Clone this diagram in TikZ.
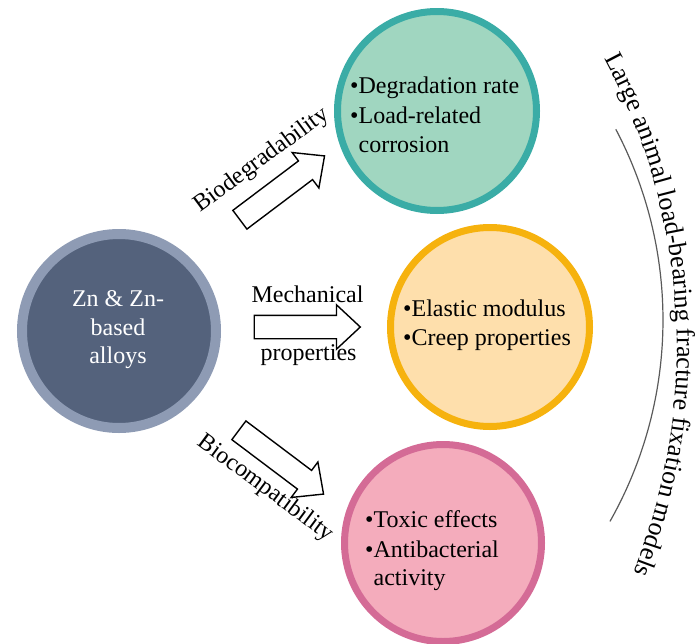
\documentclass[tikz,border=0pt]{standalone}
\usepackage{fontspec}
\setmainfont{Liberation Serif}
\usetikzlibrary{shapes.arrows,decorations.text}
\definecolor{znring}{HTML}{8E9BB4}
\definecolor{znfill}{HTML}{54627C}
\definecolor{tealring}{HTML}{3AACA6}
\definecolor{tealfill}{HTML}{A0D6C0}
\definecolor{orring}{HTML}{F6B20E}
\definecolor{orfill}{HTML}{FEDFAC}
\definecolor{pkring}{HTML}{D46B96}
\definecolor{pkfill}{HTML}{F4ACBC}
\definecolor{arcgray}{HTML}{5A5A5A}
\begin{document}
\begin{tikzpicture}[x=1pt,y=1pt,
  bubble/.style={circle, inner sep=0pt, minimum size=199pt, line width=7pt},
  txt/.style={inner sep=0pt, anchor=base west, font=\fontsize{24}{29}\selectfont},
  ctxt/.style={inner sep=0pt, anchor=base, font=\fontsize{24}{29}\selectfont},
  blockarrow/.style={single arrow, draw=black, fill=white, line width=1.4pt, inner sep=0pt,
    minimum height=106pt, single arrow head extend=10.5pt, single arrow tip angle=86},
  arcline/.style={draw=arcgray, line width=1.2pt}
]
\useasboundingbox (0,0) rectangle (699,-643);
% circles
\node[circle, inner sep=0pt, minimum size=194pt, line width=10pt, draw=znring, fill=znfill] (zn) at (119,-331) {};
\node[bubble, draw=tealring, fill=tealfill] (bio) at (437,-111) {};
\node[bubble, draw=orring, fill=orfill] (mech) at (490,-327) {};
\node[bubble, minimum size=197pt, draw=pkring, fill=pkfill] (comp) at (443,-543) {};
% left text
\node[ctxt, text=white] (z1) at (118,-306) {Zn \& Zn-};
\node[ctxt, text=white] (z2) at (118,-335) {based};
\node[ctxt, text=white] (z3) at (118,-363) {alloys};
% teal text
\node[txt] (t1) at (350,-93) {•Degradation rate};
\node[txt] (t2) at (350,-123) {•Load-related};
\node[txt] (t3) at (358.4,-152) {corrosion};
% orange text
\node[txt] (o1) at (403,-316) {•Elastic modulus};
\node[txt] (o2) at (403,-345) {•Creep properties};
% pink text
\node[txt] (p1) at (365,-527) {•Toxic effects};
\node[txt] (p2) at (365,-557) {•Antibacterial};
\node[txt] (p3) at (373.4,-585) {activity};
% block arrows
\node[blockarrow, rotate=37] (a1) at (277.2,-191.6) {\vrule width 0pt height 11pt depth 11pt};
\node[blockarrow] (a2) at (301,-327) {\vrule width 0pt height 11pt depth 11pt};
\node[blockarrow, rotate=-37] (a3) at (276.2,-458.4) {\vrule width 0pt height 11pt depth 11pt};
% arrow labels
\node[ctxt, rotate=36.5] (lbio) at (265,-165) {Biodegradability};
\node[ctxt] (lmech) at (307.5,-302) {Mechanical};
\node[ctxt] (lprop) at (308.5,-360) {properties};
\node[ctxt, rotate=-36.5] (lcomp) at (262,-493) {Biocompatibility};
% right arc and curved title
\coordinate (arcc) at (254,-320);
\draw[arcline] (arcc) ++(27.8:409) arc[start angle=27.8, end angle=-29.5, radius=409];
\coordinate (textc) at (67,-347);
\path[decorate, decoration={text along path, text align=center,
  text={|\fontsize{26}{26}\selectfont|Large animal load-bearing fracture fixation models}}]
  (textc) ++(29.5:610) arc[start angle=29.5, end angle=-23, radius=610];
\end{tikzpicture}
\end{document}
